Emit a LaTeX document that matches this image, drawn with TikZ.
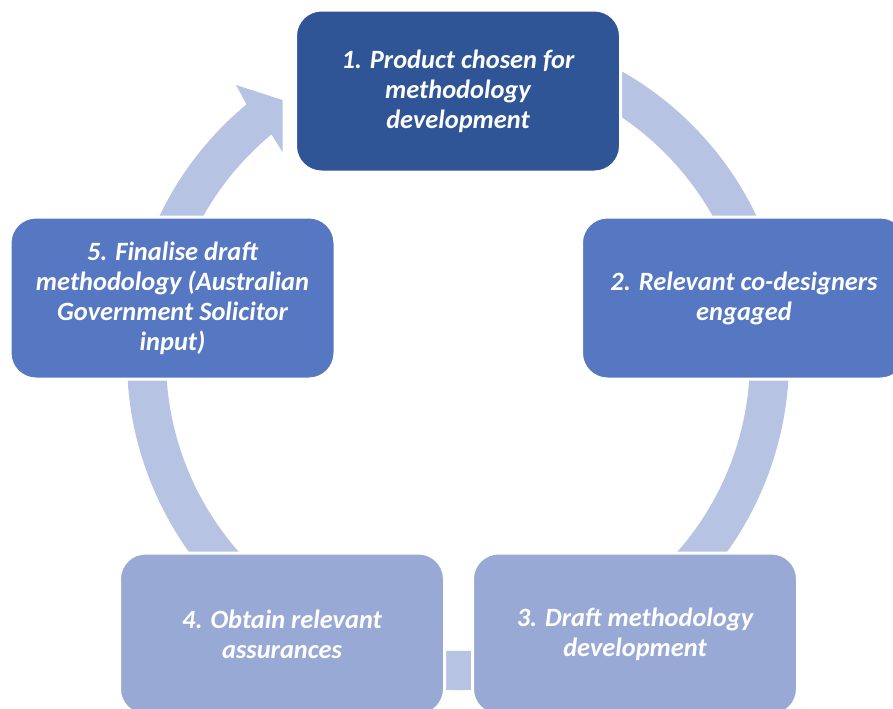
\documentclass[tikz,border=0pt]{standalone}
\usepackage{fontspec}
\setmainfont{Carlito}
\usetikzlibrary{calc}
\definecolor{stepdark}{HTML}{2F5597}
\definecolor{stepmid}{HTML}{5677C1}
\definecolor{steplight}{HTML}{98A9D5}
\definecolor{ringblue}{HTML}{B7C3E3}
\tikzset{
  stepbox/.style={rectangle, rounded corners=19.5pt, draw=white, line width=2.25pt,
    minimum width=243.75pt, minimum height=121.5pt, inner sep=0pt,
    text=white, align=center, font=\fontsize{19.8}{22.5}\selectfont\bfseries\itshape},
}
\begin{document}
\begin{tikzpicture}[x=0.75pt, y=-0.75pt]
\useasboundingbox (0,0) rectangle (893,708);
\clip (0,0) rectangle (893,708);
\coordinate (C) at (458,359);
% cycle ring with the arrow head pointing at the first step
\fill[ringblue] ($(C)+(-116:331)$) arc[start angle=-116, end angle=230.3, radius=331]
  -- (236,85) -- (282.5,100) -- (282.5,152)
  -- ($(C)+(230.3:292)$) arc[start angle=230.3, end angle=-116, radius=292] -- cycle;
% steps
\node[stepbox, fill=stepdark] (s1) at (458,91) {1. Product chosen for\\methodology\\development};
\node[stepbox, fill=stepmid] (s2) at (744,298) {2. Relevant co-designers\\engaged};
\node[stepbox, fill=steplight] (s3) at (635,634) {3. Draft methodology\\development};
\node[stepbox, fill=steplight] (s4) at (282,634) {4. Obtain relevant\\assurances};
\node[stepbox, fill=stepmid] (s5) at (172.5,298) {5. Finalise draft\\methodology (Australian\\Government Solicitor\\input)};
\end{tikzpicture}
\end{document}
